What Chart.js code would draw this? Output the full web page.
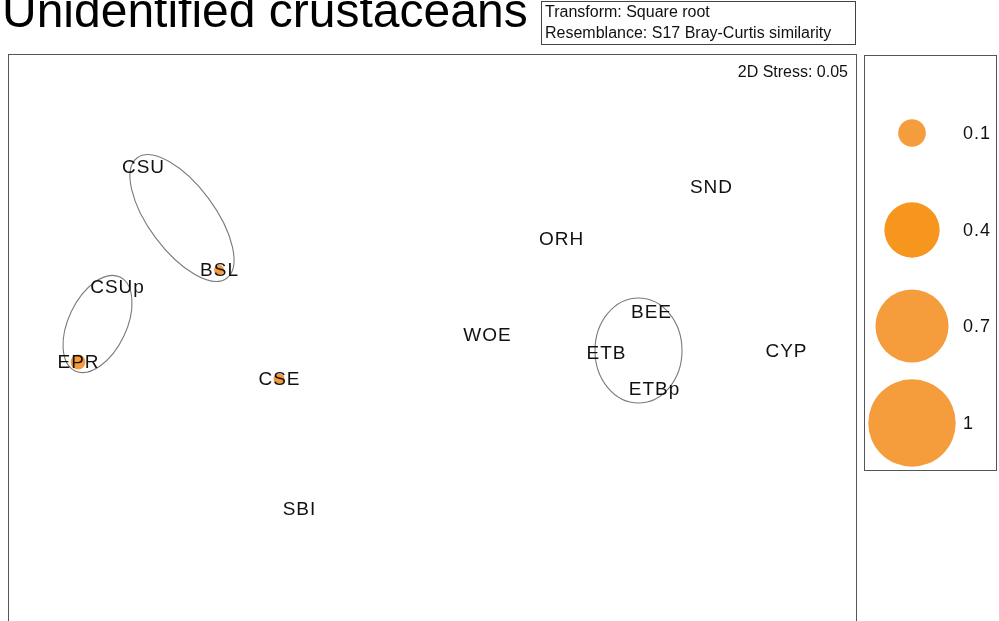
<!DOCTYPE html>
<html>
<head>
<meta charset="utf-8">
<script src="https://cdn.jsdelivr.net/npm/chart.js@4/dist/chart.umd.min.js"></script>
<style>
  html, body { margin: 0; padding: 0; background: #fff; }
  #wrap { width: 999px; height: 621px; overflow: hidden; position: relative; }
  canvas { display: block; }
</style>
</head>
<body>
<div id="wrap"><canvas id="mds" width="999" height="680"></canvas></div>
<script>
// nMDS ordination of sites, bubbles = abundance of unidentified crustaceans
var sites = ["CSU", "BSL", "CSUp", "EPR", "CSE", "SBI", "WOE", "ORH", "SND", "BEE", "ETB", "ETBp", "CYP"];
var mds1 = [-1.445, -1.065, -1.575, -1.77, -0.765, -0.665, 0.275, 0.645, 1.395, 1.095, 0.87, 1.11, 1.77];
var mds2 = [0.815, 0.30, 0.215, -0.16, -0.245, -0.895, -0.025, 0.455, 0.715, 0.09, -0.115, -0.295, -0.105];
var abundance = [0, 0.013, 0, 0.029, 0.016, 0, 0, 0, 0, 0, 0, 0, 0];

// similarity clusters drawn as ellipses (centre, semi-axes in MDS units, rotation in degrees)
var clusters = [
  {cx: -1.25, cy: 0.56, a: 0.375, b: 0.165, rot: 53.4},
  {cx: -1.6725, cy: 0.03, a: 0.26, b: 0.145, rot: -64.4},
  {cx: 1.0325, cy: -0.1025, a: 0.2625, b: 0.2175, rot: 90}
];

var sizeKeys = [0.1, 0.4, 0.7, 1];
var sizeKeyColors = ["#F59C3C", "#F7961C", "#F59C3C", "#F59C3C"];

var stress = 0.05;
var titleText = "Unidentified crustaceans";
var notes = ["Transform: Square root", "Resemblance: S17 Bray-Curtis similarity"];

var MAX_R = 43.7;   // radius of a bubble of value 1
var FONT = '"Liberation Sans", Arial, Helvetica, sans-serif';

function bubbleRadius(v) { return MAX_R * Math.sqrt(v); }

var points = sites.map(function (s, i) {
  return {x: mds1[i], y: mds2[i], r: bubbleRadius(abundance[i])};
});

var decorations = {
  id: "decorations",
  afterDatasetsDraw: function (chart) {
    var ctx = chart.ctx;
    var area = chart.chartArea;
    var xs = chart.scales.x, ys = chart.scales.y;
    var unit = xs.getPixelForValue(1) - xs.getPixelForValue(0);

    ctx.save();
    // cluster outlines
    ctx.strokeStyle = "#7a7a7a";
    ctx.lineWidth = 1.1;
    clusters.forEach(function (c) {
      ctx.beginPath();
      ctx.ellipse(xs.getPixelForValue(c.cx), ys.getPixelForValue(c.cy),
        c.a * unit, c.b * unit, c.rot * Math.PI / 180, 0, Math.PI * 2);
      ctx.stroke();
    });

    // site labels centred on each point
    var meta = chart.getDatasetMeta(0);
    ctx.fillStyle = "#111";
    ctx.font = "19px " + FONT;
    ctx.letterSpacing = "1px";
    ctx.textAlign = "center";
    ctx.textBaseline = "middle";
    meta.data.forEach(function (el, i) {
      ctx.fillText(sites[i], el.x + 0.5, el.y + 1);
    });
    ctx.letterSpacing = "0px";

    // plot frame
    ctx.strokeStyle = "#555";
    ctx.lineWidth = 1;
    ctx.strokeRect(area.left + 0.5, area.top + 0.5, area.right - area.left, area.bottom - area.top);

    // stress
    ctx.fillStyle = "#111";
    ctx.font = "16px " + FONT;
    ctx.textAlign = "right";
    ctx.textBaseline = "alphabetic";
    ctx.fillText("2D Stress: " + stress.toFixed(2), area.right - 8, area.top + 23);

    // title
    ctx.textAlign = "left";
    ctx.font = "48px " + FONT;
    ctx.fillStyle = "#000";
    ctx.fillText(titleText, 2, 27);

    // transform / resemblance note
    ctx.strokeStyle = "#444";
    ctx.strokeRect(541.5, 1.5, 314, 43);
    ctx.font = "16px " + FONT;
    ctx.fillStyle = "#111";
    notes.forEach(function (t, i) {
      ctx.fillText(t, 545, 17 + i * 21);
    });

    // bubble size key
    ctx.strokeStyle = "#555";
    ctx.strokeRect(864.5, 55.5, 132, 415);
    var keyY = [133, 230, 326, 423];
    ctx.font = "18px " + FONT;
    ctx.letterSpacing = "1px";
    ctx.textBaseline = "middle";
    sizeKeys.forEach(function (v, i) {
      ctx.beginPath();
      ctx.arc(912, keyY[i], bubbleRadius(v), 0, Math.PI * 2);
      ctx.fillStyle = sizeKeyColors[i];
      ctx.fill();
      ctx.fillStyle = "#111";
      ctx.fillText(String(v), 963, keyY[i] + 1);
    });
    ctx.restore();
  }
};

new Chart(document.getElementById("mds"), {
  type: "bubble",
  data: {
    datasets: [{
      data: points,
      backgroundColor: "#F59B3D",
      borderWidth: 0,
      hoverRadius: 0
    }]
  },
  options: {
    responsive: false,
    animation: false,
    events: [],
    layout: {padding: {left: 8, top: 54, right: 143, bottom: 26}},
    scales: {
      x: {type: "linear", min: -2.12, max: 2.12, display: false},
      y: {type: "linear", min: -1.62, max: 1.38, display: false}
    },
    plugins: {
      legend: {display: false},
      tooltip: {enabled: false}
    }
  },
  plugins: [decorations]
});
</script>
</body>
</html>
